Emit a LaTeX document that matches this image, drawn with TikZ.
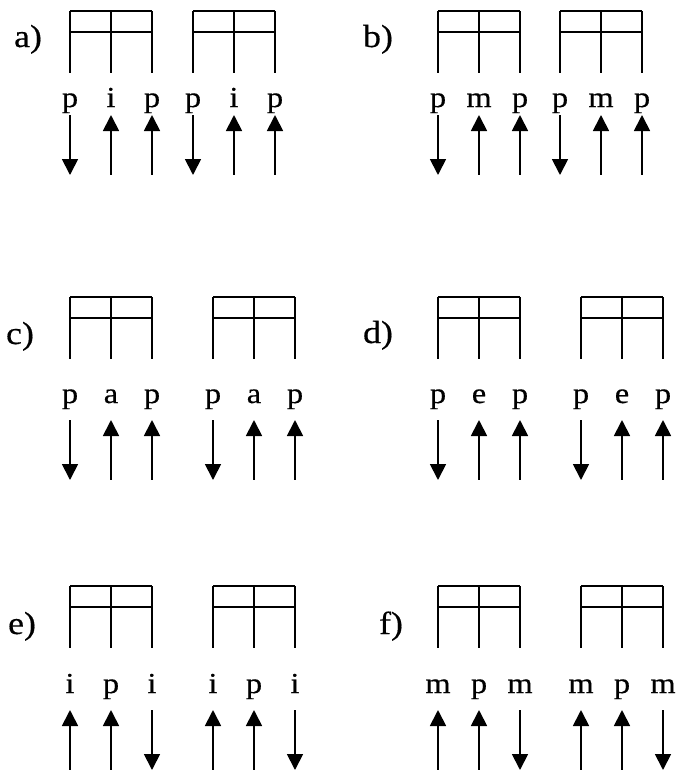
\documentclass[tikz,border=0pt]{standalone}
\usepackage{fontspec}
\setmainfont{Liberation Serif}[FakeStretch=1.12,FakeBold=0.4]
\usetikzlibrary{arrows.meta}
\tikzset{
  beam/.style={line width=1.6pt},
  letter/.style={inner sep=0pt,anchor=base,font=\fontsize{29}{32}\selectfont},
  plabel/.style={inner sep=0pt,anchor=base,font=\fontsize{32}{35}\selectfont},
  dn/.style={line width=1.8pt,-{Triangle[length=16pt,width=16pt]}},
  up/.style={line width=1.8pt,{Triangle[length=16pt,width=16pt]}-},
}
% #1 name, #2 x, #3 beam top, #4 letter baseline, #5 arrow top, #6 letters, #7 arrow styles
\newcommand\triplet[7]{%
  \draw[beam] (#2,#3) -- (#2+82,#3) (#2,#3+21) -- (#2+82,#3+21);
  \foreach \k in {0,1,2} \draw[beam] (#2+41*\k,#3) -- (#2+41*\k,#3+62);
  \foreach \l [count=\i from 0] in {#6} \node[letter] (#1l\i) at (#2+41*\i,#4) {\l};
  \foreach \d [count=\i from 0] in {#7} {%
    \coordinate (#1t\i) at (#2+41*\i,#5);
    \coordinate (#1b\i) at (#2+41*\i,#5+60);
    \draw[\d] (#1t\i) -- (#1b\i);}
}
\begin{document}
\begin{tikzpicture}[x=1pt,y=-1pt]
\useasboundingbox (0,0) rectangle (681,772);
% row 1
\node[plabel] (la) at (28,47) {a)};
\triplet{a1}{70}{11}{107}{115}{p,i,p}{dn,up,up}
\triplet{a2}{193}{11}{107}{115}{p,i,p}{dn,up,up}
\node[plabel] (lb) at (378,47) {b)};
\triplet{b1}{438}{11}{107}{115}{p,m,p}{dn,up,up}
\triplet{b2}{560}{11}{107}{115}{p,m,p}{dn,up,up}
% row 2
\node[plabel] (lc) at (20,344) {c)};
\triplet{c1}{70}{297}{403}{420}{p,a,p}{dn,up,up}
\triplet{c2}{213}{297}{403}{420}{p,a,p}{dn,up,up}
\node[plabel] (ld) at (378,343) {d)};
\triplet{d1}{438}{297}{403}{420}{p,e,p}{dn,up,up}
\triplet{d2}{581}{297}{403}{420}{p,e,p}{dn,up,up}
% row 3
\node[plabel] (le) at (22,634) {e)};
\triplet{e1}{70}{586}{693}{710}{i,p,i}{up,up,dn}
\triplet{e2}{213}{586}{693}{710}{i,p,i}{up,up,dn}
\node[plabel] (lf) at (391,634) {f)};
\triplet{f1}{438}{586}{693}{710}{m,p,m}{up,up,dn}
\triplet{f2}{581}{586}{693}{710}{m,p,m}{up,up,dn}
\end{tikzpicture}
\end{document}
